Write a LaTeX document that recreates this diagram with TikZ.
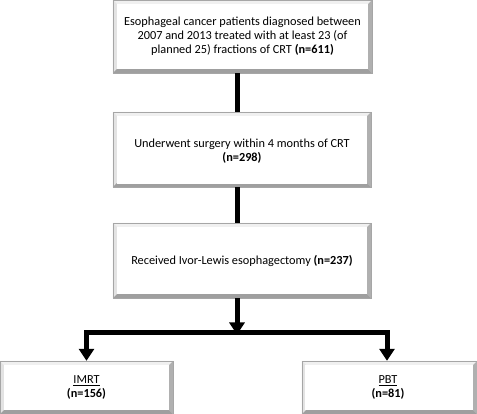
\documentclass[tikz,border=0pt]{standalone}
\usepackage{fontspec}
\setmainfont{Carlito}
\usetikzlibrary{calc,arrows.meta}
\newcommand\bevelbox[1]{%
  \fill[gray!12] (#1.north west) -- (#1.north east) -- ($(#1.north east)+(-4,4)$) -- ($(#1.north west)+(4,4)$) -- cycle;
  \fill[gray!22] (#1.north west) -- ($(#1.north west)+(4,4)$) -- ($(#1.south west)+(4,-4)$) -- (#1.south west) -- cycle;
  \fill[gray!62] (#1.north east) -- (#1.south east) -- ($(#1.south east)+(-4,-4)$) -- ($(#1.north east)+(-4,4)$) -- cycle;
  \fill[gray!75] (#1.south west) -- (#1.south east) -- ($(#1.south east)+(-4,-4)$) -- ($(#1.south west)+(4,-4)$) -- cycle;
  \draw[gray!70, line width=0.6pt] ([shift={(0.3,0.3)}]#1.north west) rectangle ([shift={(-0.3,-0.3)}]#1.south east);
}
\begin{document}
\begin{tikzpicture}[x=1pt,y=-1pt,
  box/.style={rectangle, fill=white, inner sep=0pt, align=center,
    font=\fontsize{12.3}{14}\selectfont, text=black},
  conn/.style={line width=5pt, draw=black},
  arr/.style={conn, line join=miter, -{Triangle[length=12pt,width=15pt]}}]
\useasboundingbox (0,0) rectangle (477,414);
\node[box, minimum width=259pt, minimum height=73pt] (b1) at (242.5,36.5) {};
\node[box, minimum width=258pt, minimum height=75pt] (b2) at (242,149.5) {};
\node[box, minimum width=258pt, minimum height=75pt] (b3) at (242,260.5) {};
\node[box, minimum width=173pt, minimum height=53pt] (b4) at (86.5,387.5) {};
\node[box, minimum width=175pt, minimum height=53pt] (b5) at (389.5,387.5) {};
\foreach \n in {b1,b2,b3,b4,b5} {\bevelbox{\n}}
\node[box, minimum width=251pt, minimum height=65pt] (t1) at (b1) {Esophageal cancer patients diagnosed between\\2007 and 2013 treated with at least 23 (of\\planned 25) fractions of CRT \textbf{(n=611)}};
\node[box, minimum width=250pt, minimum height=67pt] (t2) at ([yshift=-1.5pt]b2) {Underwent surgery within 4 months of CRT\\\textbf{(n=298)}};
\node[box, minimum width=250pt, minimum height=67pt] (t3) at (b3) {Received Ivor-Lewis esophagectomy \textbf{(n=237)}};
\node[box, minimum width=165pt, minimum height=45pt] (t4) at (b4) {\underline{IMRT}\\\textbf{(n=156)}};
\node[box, minimum width=167pt, minimum height=45pt] (t5) at ([xshift=-1.5pt]b5) {\underline{PBT}\\\textbf{(n=81)}};
\coordinate (split) at (237,333);
\draw[conn] ([xshift=-5.5pt]b1.south) -- ([xshift=-5pt]b2.north);
\draw[conn] ([xshift=-5pt]b2.south) -- ([xshift=-5pt]b3.north);
\draw[arr] ([xshift=-5pt]b3.south) -- ([yshift=-1.5pt]split);
\draw[arr] (split) -| (b4.north);
\draw[arr] (split) -| ([xshift=-2.5pt]b5.north);
\end{tikzpicture}
\end{document}
